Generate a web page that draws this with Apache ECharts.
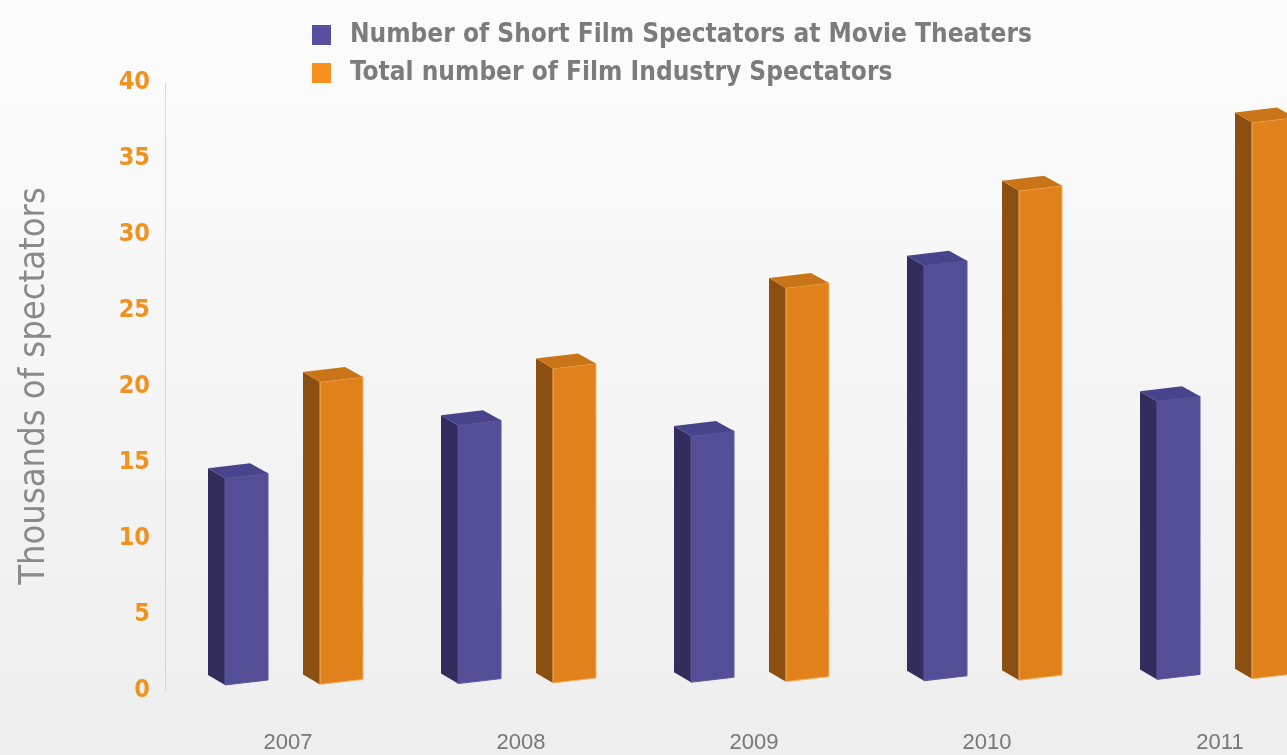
<!DOCTYPE html>
<html>
<head>
<meta charset="utf-8">
<title>Spectators</title>
<script src="https://cdn.jsdelivr.net/npm/echarts@6/dist/echarts.min.js"></script>
<style>
  html, body { margin: 0; padding: 0; width: 1287px; height: 755px; overflow: hidden;
    background: linear-gradient(to bottom, #fcfcfc 0%, #f6f6f6 45%, #eeeeee 100%); }
  #chart { width: 1287px; height: 755px; }
</style>
</head>
<body>
<div id="chart"></div>
<script>
// Years on the horizontal axis
const years = ['2007', '2008', '2009', '2010', '2011'];
// Thousands of spectators
const shortFilmSpectators = [13.6, 17.0, 16.2, 27.3, 18.3];
const totalFilmSpectators = [19.9, 20.7, 25.9, 32.2, 36.6];
// Value axis ticks
const yTicks = [0, 5, 10, 15, 20, 25, 30, 35, 40];

const seriesNames = [
  'Number of Short Film Spectators at Movie Theaters',
  'Total number of Film Industry Spectators'
];

const FONT = '"DejaVu Sans Condensed", "Liberation Sans Narrow", "Noto Sans", sans-serif';

// Draws a box-shaped bar: front face, left side face and top face
function boxRenderer(shift, colors) {
  return function (params, api) {
    const idx = api.value(0);
    const v = api.value(1);
    const base = api.coord([idx, 0]);
    const topPt = api.coord([idx, v]);
    const h = base[1] - topPt[1];
    const w = 43;
    const xL = base[0] + shift;
    const xR = xL + w;
    const tilt = -(xL - 225) * 0.006;
    const yB = base[1] - 5 + tilt;
    const yT = yB - h;
    const slope = 5;
    const dx = -17, dy = -10;
    const front = [[xL, yB], [xR, yB - slope], [xR, yT - slope], [xL, yT]];
    const sideFace = [[xL + dx, yB + dy], [xL, yB], [xL, yT], [xL + dx, yT + dy]];
    const topFace = [[xL, yT], [xR, yT - slope], [xR + dx - 1, yT - slope + dy], [xL + dx, yT + dy]];
    return {
      type: 'group',
      children: [
        { type: 'polygon', shape: { points: sideFace }, style: { fill: colors.side } },
        { type: 'polygon', shape: { points: front },
          style: { fill: colors.front, stroke: colors.edge, lineWidth: 1 } },
        { type: 'polygon', shape: { points: topFace }, style: { fill: colors.top } }
      ]
    };
  };
}

const blue = { front: '#534e96', side: '#322d5c', top: '#48448b', edge: '#5a55a0' };
const orange = { front: '#e0811b', side: '#8a4f11', top: '#c97517', edge: '#f3b463' };

const chart = echarts.init(document.getElementById('chart'), null, { renderer: 'canvas' });

// Plot area spans from the first to the last year; the value axis sits further left
const GRID_LEFT = 288;
const AXIS_X = 165;

chart.setOption({
  backgroundColor: 'transparent',
  animation: false,
  legend: {
    orient: 'vertical',
    left: 312,
    top: 22,
    padding: 0,
    itemWidth: 19,
    itemHeight: 20,
    itemGap: 12,
    icon: 'rect',
    textStyle: { color: '#7c7c7c', fontSize: 26, fontFamily: FONT, fontWeight: 'bold',
      padding: [0, 0, 0, 14] },
    data: seriesNames
  },
  grid: { left: GRID_LEFT, right: 1287 - 1220, top: 82, bottom: 65 },
  xAxis: {
    type: 'category',
    boundaryGap: false,
    data: years,
    axisLine: { show: false },
    axisTick: { show: false },
    axisLabel: { color: '#777777', fontSize: 22, fontFamily: 'Liberation Sans, Arial, sans-serif', margin: 42 }
  },
  yAxis: {
    type: 'value',
    min: yTicks[0],
    max: yTicks[yTicks.length - 1],
    interval: 5,
    offset: GRID_LEFT - AXIS_X,
    name: 'Thousands of spectators',
    nameLocation: 'middle',
    nameRotate: 90,
    nameGap: 112,
    nameTextStyle: { color: '#8a8a8a', fontSize: 36, fontFamily: FONT },
    axisLine: { show: true, lineStyle: { color: '#cfcfcf', type: 'dotted', width: 1 } },
    axisTick: { show: false },
    splitLine: { show: false },
    axisLabel: { color: '#f0921f', fontSize: 25, fontWeight: 'bold', fontFamily: FONT, margin: 15 }
  },
  series: [
    {
      name: seriesNames[0],
      type: 'custom',
      itemStyle: { color: '#5750a0' },
      renderItem: boxRenderer(-63, blue),
      encode: { x: 0, y: 1 },
      clip: false,
      data: shortFilmSpectators.map((v, i) => [i, v])
    },
    {
      name: seriesNames[1],
      type: 'custom',
      itemStyle: { color: '#f7901e' },
      renderItem: boxRenderer(32, orange),
      encode: { x: 0, y: 1 },
      clip: false,
      data: totalFilmSpectators.map((v, i) => [i, v])
    }
  ]
});
</script>
</body>
</html>
